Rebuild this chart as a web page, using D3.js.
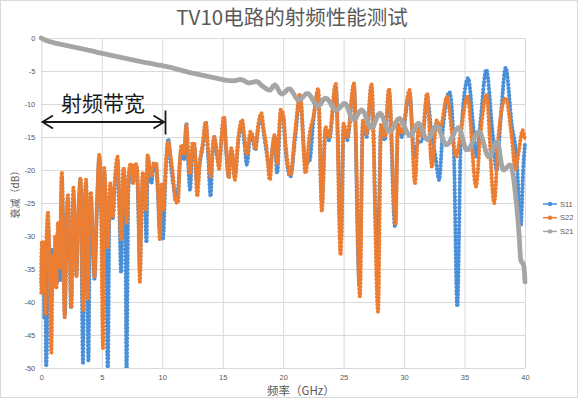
<!DOCTYPE html>
<html>
<head>
<meta charset="utf-8">
<script src="https://cdn.jsdelivr.net/npm/d3@7"></script>
<style>
  html, body { margin: 0; padding: 0; background: #fff; }
  svg { display: block; font-family: "Noto Sans CJK SC", "Noto Sans", sans-serif; }
  .tick text { font-family: "Liberation Sans", "DejaVu Sans", sans-serif; font-size: 7.5px; fill: #595959; }
</style>
</head>
<body>
<svg id="chart" width="580" height="400"></svg>
<script>
// values: [frequency GHz, dB]
const s11 = [
    [0, -37], [0.05, -32], [0.1, -38], [0.18, -31.5], [0.25, -42.5], [0.32, -33], [0.4, -49.8], [0.48, -45],
    [0.55, -28], [0.7, -35], [0.83, -40], [0.95, -32], [1.1, -36], [1.2, -31], [1.3, -37], [1.45, -30],
    [1.55, -36.7], [1.7, -21], [1.8, -28], [1.95, -42], [2.1, -29], [2.2, -24.5], [2.35, -32], [2.45, -41],
    [2.65, -23.5], [2.8, -30], [2.9, -36], [3.05, -28], [3.25, -21.5], [3.45, -49.2], [3.55, -31], [3.7, -22],
    [3.9, -49], [4.0, -30], [4.1, -24], [4.25, -31], [4.4, -36.5], [4.6, -26], [4.8, -18], [4.95, -25],
    [5.05, -30], [5.2, -20.5], [5.35, -28], [5.5, -51], [5.65, -24], [5.9, -27.5], [6.1, -22], [6.3, -18.5],
    [6.45, -26], [6.6, -35.6], [6.8, -20], [6.95, -27], [7.05, -51], [7.2, -23], [7.4, -19.5], [7.6, -22],
    [7.75, -19.5], [7.9, -20], [8.05, -28], [8.15, -35.5], [8.3, -25], [8.4, -21], [8.55, -24], [8.7, -31],
    [8.8, -18], [8.95, -20], [9.1, -22], [9.3, -19.5], [9.5, -19.5], [9.65, -24], [9.8, -29], [9.95, -23],
    [10.05, -30.6], [10.3, -20], [10.5, -15.3], [10.7, -19], [10.9, -22], [11.1, -24], [11.3, -23], [11.45, -19],
    [11.6, -17], [11.8, -18.5], [12.0, -13], [12.15, -19], [12.3, -23], [12.5, -17], [12.65, -16.5], [12.9, -22],
    [13.1, -19], [13.35, -16.5], [13.6, -12.7], [13.8, -18], [14.0, -24], [14.15, -18], [14.3, -15], [14.5, -17.5],
    [14.7, -19], [14.9, -15.5], [15.1, -12], [15.3, -17.5], [15.5, -21], [15.7, -17], [15.85, -18.5], [16.0, -21],
    [16.3, -15.5], [16.6, -13], [16.8, -16], [17.0, -19.2], [17.3, -14.5], [17.5, -15.5], [17.7, -17], [17.95, -13.5],
    [18.2, -12], [18.4, -14.5], [18.6, -17], [18.9, -20], [19.1, -17], [19.3, -15], [19.5, -20.5], [19.8, -11.5],
    [20.0, -12], [20.2, -17], [20.6, -21], [21.0, -15], [21.4, -9], [21.85, -19], [22.2, -18.5], [22.5, -12.5],
    [22.9, -8.2], [23.2, -25], [23.5, -14], [23.8, -15.5], [24.35, -7.3], [24.8, -30.5], [25.0, -13.5], [25.3, -15.5],
    [25.85, -7.3], [26.3, -37.4], [26.6, -13], [26.9, -15], [27.3, -7.5], [27.8, -33.6], [28.1, -13.5], [28.4, -15.5],
    [28.75, -8.2], [29.25, -28.6], [29.5, -13.5], [29.8, -15], [30.45, -8.4], [30.85, -18], [31.1, -16], [31.5, -15.5],
    [31.9, -8.9], [32.3, -15], [32.6, -18], [32.9, -21.5], [33.2, -14], [33.75, -8.2], [34.1, -16], [34.4, -40.7],
    [34.7, -15], [35.3, -6.1], [35.7, -13], [36.0, -18], [36.3, -13], [36.8, -4.8], [37.3, -14], [37.65, -20],
    [38.0, -12], [38.4, -4.5], [38.9, -13], [39.3, -18], [39.65, -28.5], [39.85, -20], [40.0, -16]
];

const s22 = [
    [0, -38.6], [0.05, -31], [0.1, -37], [0.15, -30.8], [0.22, -38.5], [0.3, -31.5], [0.35, -42], [0.42, -31],
    [0.55, -26.5], [0.7, -36], [0.83, -47.7], [0.95, -33], [1.05, -37.5], [1.15, -30], [1.25, -38], [1.38, -28],
    [1.5, -35], [1.7, -20.3], [1.8, -30], [1.93, -42.3], [2.05, -30], [2.2, -23.8], [2.35, -33], [2.5, -40.7],
    [2.65, -22.7], [2.8, -30], [2.9, -36.2], [3.05, -27], [3.25, -21.2], [3.45, -41.2], [3.55, -30], [3.7, -21.5],
    [3.85, -39.7], [3.95, -28], [4.1, -23.3], [4.25, -30], [4.4, -36.2], [4.6, -25], [4.8, -17.7], [4.95, -27],
    [5.1, -47], [5.2, -19.7], [5.35, -25], [5.5, -31.7], [5.7, -22], [5.9, -27.1], [6.1, -21], [6.3, -18],
    [6.45, -24], [6.6, -30.5], [6.8, -19.7], [6.95, -24], [7.05, -28], [7.2, -21], [7.4, -19], [7.6, -22],
    [7.75, -19], [7.9, -19.5], [8.05, -27], [8.15, -37], [8.3, -24], [8.4, -20.3], [8.55, -23], [8.65, -26],
    [8.8, -17.7], [8.95, -19.5], [9.1, -21], [9.3, -19], [9.5, -19], [9.65, -23], [9.8, -30.5], [9.95, -22],
    [10.1, -26], [10.3, -19], [10.5, -15.7], [10.7, -18], [10.9, -21], [11.1, -24.8], [11.3, -25], [11.45, -19],
    [11.6, -16.2], [11.8, -17.5], [12.0, -13.2], [12.15, -18], [12.3, -20.6], [12.5, -16], [12.65, -15.9], [12.9, -24],
    [13.1, -19], [13.35, -16], [13.6, -12.9], [13.8, -17], [14.0, -21], [14.15, -17], [14.3, -15], [14.5, -17],
    [14.7, -19.8], [14.9, -15], [15.1, -11.9], [15.3, -17], [15.5, -21.2], [15.7, -16.7], [15.85, -18], [16.0, -21.5],
    [16.3, -15], [16.6, -12.4], [16.8, -15], [17.0, -17.7], [17.3, -14.2], [17.5, -15], [17.7, -16.7], [17.95, -13],
    [18.2, -11.4], [18.4, -14], [18.6, -16.2], [18.9, -21.5], [19.1, -17], [19.3, -14.7], [19.5, -19], [19.8, -10.9],
    [20.0, -11.5], [20.2, -16], [20.6, -20.8], [21.0, -14], [21.4, -8.5], [21.85, -20.5], [22.2, -14.4], [22.5, -12],
    [22.9, -7.7], [23.2, -26.3], [23.5, -13.5], [23.8, -15], [24.35, -6.9], [24.75, -32.9], [25.0, -13], [25.3, -15],
    [25.85, -6.9], [26.35, -39.2], [26.6, -12.5], [26.9, -14.5], [27.3, -7.0], [27.85, -41.5], [28.1, -13], [28.4, -15],
    [28.75, -7.7], [29.3, -28.3], [29.5, -13], [29.8, -14.5], [30.45, -7.9], [30.9, -22], [31.2, -13.5], [31.5, -15],
    [31.9, -8.4], [32.3, -19.5], [32.7, -12.5], [33.0, -13.5], [33.55, -8.9], [34.0, -15], [34.3, -18], [34.7, -14],
    [35.25, -8.9], [35.95, -22.5], [36.3, -15], [36.8, -8.6], [37.45, -25], [37.8, -15], [38.4, -9.1], [38.9, -15],
    [39.2, -20], [39.5, -17], [39.8, -14], [40.0, -15.5]
];

const s21 = [
    [0, 0], [0.3, -0.3], [1, -0.7], [2, -1.1], [3, -1.5], [4, -1.9], [5, -2.3], [6, -2.7], [7, -3.1],
    [8, -3.5], [9, -3.85], [10, -4.2], [11, -4.6], [12, -5.1], [13, -5.5], [14, -5.9], [15, -6.3],
    [15.8, -6.5], [16.5, -6.3], [17.2, -6.8], [17.8, -6.6], [18.3, -7.3], [18.9, -7.9], [19.3, -7.1],
    [19.9, -8.5], [20.5, -7.7], [21.3, -9.4], [22.0, -8.4], [22.9, -10.3], [23.5, -9.1], [24.4, -10.9],
    [25.1, -9.9], [25.8, -12.4], [26.5, -10.9], [27.3, -13.6], [28.0, -11.4], [28.8, -14.2], [29.6, -12.2],
    [30.5, -14.8], [31.2, -12.9], [31.9, -15.4], [32.7, -13.3], [33.5, -16.2], [34.5, -13.6], [35.2, -17],
    [36.2, -14.2], [37.0, -18], [37.7, -15.7], [38.2, -20], [38.8, -19.2], [39.2, -23.5], [39.5, -29.5],
    [39.65, -33.6], [39.9, -34.5], [40.0, -37]
];

const seriesNames = ["S11", "S22", "S21"];
const seriesColors = ["#4a90d9", "#ed7d31", "#a5a5a5"];
const xTicks = [0, 5, 10, 15, 20, 25, 30, 35, 40];
const yTicks = [0, -5, -10, -15, -20, -25, -30, -35, -40, -45, -50];

const svg = d3.select("#chart");

svg.append("rect")
    .attr("x", 0.5).attr("y", 0.5)
    .attr("width", 577).attr("height", 397)
    .attr("fill", "#fff")
    .attr("stroke", "#d9d9d9");

let x = d3.scaleLinear().domain([0, 40]).range([41.3, 525]);
let y = d3.scaleLinear().domain([-50, 0]).range([368, 38]);

// grid
svg.append("g")
    .attr("transform", `translate(0, ${y(-50)})`)
    .call(d3.axisBottom(x).tickValues(xTicks).tickSize(-(y(-50) - y(0))).tickFormat(""))
    .call(g => g.select(".domain").remove())
    .call(g => g.selectAll("line").attr("stroke", "#d9d9d9"));

svg.append("g")
    .attr("transform", `translate(${x(0)}, 0)`)
    .call(d3.axisLeft(y).tickValues(yTicks).tickSize(-(x(40) - x(0))).tickFormat(""))
    .call(g => g.select(".domain").remove())
    .call(g => g.selectAll("line").attr("stroke", "#d9d9d9"));

// tick labels
svg.append("g")
    .attr("transform", `translate(0, ${y(-50)})`)
    .call(d3.axisBottom(x).tickValues(xTicks).tickSize(0).tickPadding(7).tickFormat(d => String(d)))
    .call(g => g.select(".domain").remove());

svg.append("g")
    .attr("transform", `translate(${x(0)}, 0)`)
    .call(d3.axisLeft(y).tickValues(yTicks).tickSize(0).tickPadding(6).tickFormat(d => String(d)))
    .call(g => g.select(".domain").remove());

svg.append("clipPath").attr("id", "plot")
    .append("rect")
        .attr("x", x(0) - 4).attr("y", y(0) - 4)
        .attr("width", x(40) - x(0) + 8).attr("height", y(-50) - y(0) + 4);

let line = d3.line()
    .x(d => x(d[0]))
    .y(d => y(d[1]))
    .curve(d3.curveMonotoneX);

let plot = svg.append("g").attr("clip-path", "url(#plot)");

[s11, s22, s21].forEach((data, i) => {
    plot.append("path")
        .attr("d", line(data))
        .attr("fill", "none")
        .attr("stroke", seriesColors[i])
        .attr("stroke-width", i == 2 ? 3 : 1.3);
    // dense markers
    plot.append("path")
        .attr("d", line(data))
        .attr("fill", "none")
        .attr("stroke", seriesColors[i])
        .attr("stroke-width", i == 2 ? 5 : 4.2)
        .attr("stroke-linecap", "round")
        .attr("stroke-dasharray", i == 2 ? "0 2.4" : "0 3.6");
});

// legend
let legend = svg.append("g").attr("class", "legend");
seriesNames.forEach((name, i) => {
    let ly = 204 + i * 13.7;
    legend.append("line")
        .attr("x1", 543).attr("x2", 557)
        .attr("y1", ly).attr("y2", ly)
        .attr("stroke", seriesColors[i])
        .attr("stroke-width", 1.5);
    legend.append("circle")
        .attr("cx", 550).attr("cy", ly).attr("r", 2.2)
        .attr("fill", seriesColors[i]);
    legend.append("text")
        .attr("x", 560).attr("y", ly + 2.6)
        .attr("font-family", "Liberation Sans, sans-serif")
        .attr("font-size", 7.5)
        .attr("fill", "#595959")
        .text(name);
});

// titles
svg.append("text")
    .attr("x", 292).attr("y", 25)
    .attr("text-anchor", "middle")
    .attr("font-size", 20.5)
    .attr("fill", "#595959")
    .text("TV10电路的射频性能测试");

svg.append("text")
    .attr("x", 267).attr("y", 395)
    .attr("font-size", 11.5)
    .attr("fill", "#595959")
    .text("频率（GHz）");

svg.append("text")
    .attr("transform", "translate(19, 192) rotate(-90)")
    .attr("text-anchor", "middle")
    .attr("font-size", 10)
    .attr("fill", "#595959")
    .text("衰减（dB）");

// bandwidth note
let note = svg.append("g")
    .attr("stroke", "#1a1a1a")
    .attr("stroke-width", 1.8)
    .attr("fill", "none");
note.append("line").attr("x1", 42).attr("x2", 164).attr("y1", 122).attr("y2", 122);
note.append("polyline").attr("points", "53,115.5 42.5,122 53,128.5");
note.append("polyline").attr("points", "153.5,115.5 164,122 153.5,128.5");
note.append("line").attr("x1", 165.5).attr("x2", 165.5).attr("y1", 110.5).attr("y2", 134.5);

svg.append("text")
    .attr("x", 61).attr("y", 111)
    .attr("font-size", 21)
    .attr("fill", "#1a1a1a")
    .text("射频带宽");
</script>
</body>
</html>
